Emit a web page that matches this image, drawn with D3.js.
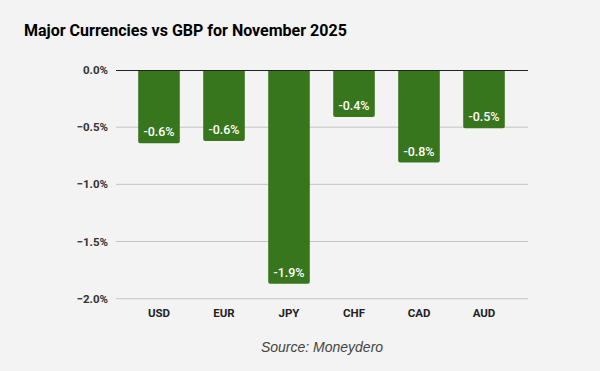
<!DOCTYPE html>
<html>
<meta charset="utf-8">
<head>
<script src="https://d3js.org/d3.v7.min.js"></script>
<style>
    body { margin: 0; background: #f3f3f3; }
    svg { display: block; }
</style>
</head>
<body>
<div id="chart"></div>
<script>
    // chart data
    var currencies = ["USD", "EUR", "JPY", "CHF", "CAD", "AUD"];
    var changes = [-0.64, -0.62, -1.87, -0.41, -0.81, -0.51];
    var valueLabels = ["-0.6%", "-0.6%", "-1.9%", "-0.4%", "-0.8%", "-0.5%"];
    var yTicks = [0, -0.5, -1.0, -1.5, -2.0];

    var width = 600, height = 371;
    var plotLeft = 116, plotRight = 528;

    var svg = d3.select("#chart").append("svg")
        .attr("width", width)
        .attr("height", height);

    svg.append("rect")
        .attr("width", width)
        .attr("height", height)
        .attr("fill", "#f3f3f3");

    // scales
    var y = d3.scaleLinear().domain([0, -2]).range([70, 298.7]);
    var x = d3.scaleBand().domain(currencies).range([126.5, 516.5])
        .paddingInner(0.36).paddingOuter(0.18);

    // title
    svg.append("text")
        .attr("x", 24)
        .attr("y", 36)
        .style("font-family", "Roboto")
        .style("font-weight", "bold")
        .style("font-size", "16px")
        .attr("fill", "#000")
        .text("Major Currencies vs GBP for November 2025");

    // gridlines
    svg.selectAll(".grid")
        .data(yTicks.filter(function(d) { return d !== 0; }))
        .enter().append("line")
        .attr("x1", plotLeft)
        .attr("x2", plotRight)
        .attr("y1", function(d) { return y(d); })
        .attr("y2", function(d) { return y(d); })
        .attr("stroke", "#c4c4c4")
        .attr("stroke-width", 1);

    // y tick labels
    svg.selectAll(".ytick")
        .data(yTicks)
        .enter().append("text")
        .attr("x", 108)
        .attr("y", function(d) { return y(d) + 4; })
        .attr("text-anchor", "end")
        .style("font-family", "Roboto")
        .style("font-weight", "bold")
        .style("font-size", "11.5px")
        .attr("fill", "#333")
        .text(function(d) { return d3.format(".1f")(d) + "%"; });

    // bars, rounded at the bottom
    var r = 2;
    svg.selectAll(".bar")
        .data(changes)
        .enter().append("path")
        .attr("fill", "#38761d")
        .attr("d", function(d, i) {
            var x0 = x(currencies[i]), x1 = x0 + x.bandwidth();
            var y0 = y(0), y1 = y(d);
            return "M" + x0 + "," + y0 +
                "L" + x1 + "," + y0 +
                "L" + x1 + "," + (y1 - r) +
                "Q" + x1 + "," + y1 + " " + (x1 - r) + "," + y1 +
                "L" + (x0 + r) + "," + y1 +
                "Q" + x0 + "," + y1 + " " + x0 + "," + (y1 - r) + "Z";
        });

    // zero line
    svg.append("line")
        .attr("x1", plotLeft)
        .attr("x2", plotRight)
        .attr("y1", y(0) + 0.5)
        .attr("y2", y(0) + 0.5)
        .attr("stroke", "#222")
        .attr("stroke-width", 1);

    // value labels inside bars
    svg.selectAll(".vlabel")
        .data(changes)
        .enter().append("text")
        .attr("x", function(d, i) { return x(currencies[i]) + x.bandwidth() / 2; })
        .attr("y", function(d) { return y(d) - 7; })
        .attr("text-anchor", "middle")
        .style("font-family", "Roboto")
        .style("font-weight", "500")
        .style("font-size", "12.5px")
        .attr("fill", "#ffffff")
        .text(function(d, i) { return valueLabels[i]; });

    // x category labels
    svg.selectAll(".xlabel")
        .data(currencies)
        .enter().append("text")
        .attr("x", function(d) { return x(d) + x.bandwidth() / 2; })
        .attr("y", 317)
        .attr("text-anchor", "middle")
        .style("font-family", "Roboto")
        .style("font-weight", "bold")
        .style("font-size", "11.5px")
        .attr("fill", "#222")
        .text(function(d) { return d; });

    // source note
    svg.append("text")
        .attr("x", (plotLeft + plotRight) / 2)
        .attr("y", 352)
        .attr("text-anchor", "middle")
        .style("font-family", "Liberation Sans")
        .style("font-style", "italic")
        .style("font-size", "14px")
        .attr("fill", "#444")
        .text("Source: Moneydero");
</script>
</body>
</html>
